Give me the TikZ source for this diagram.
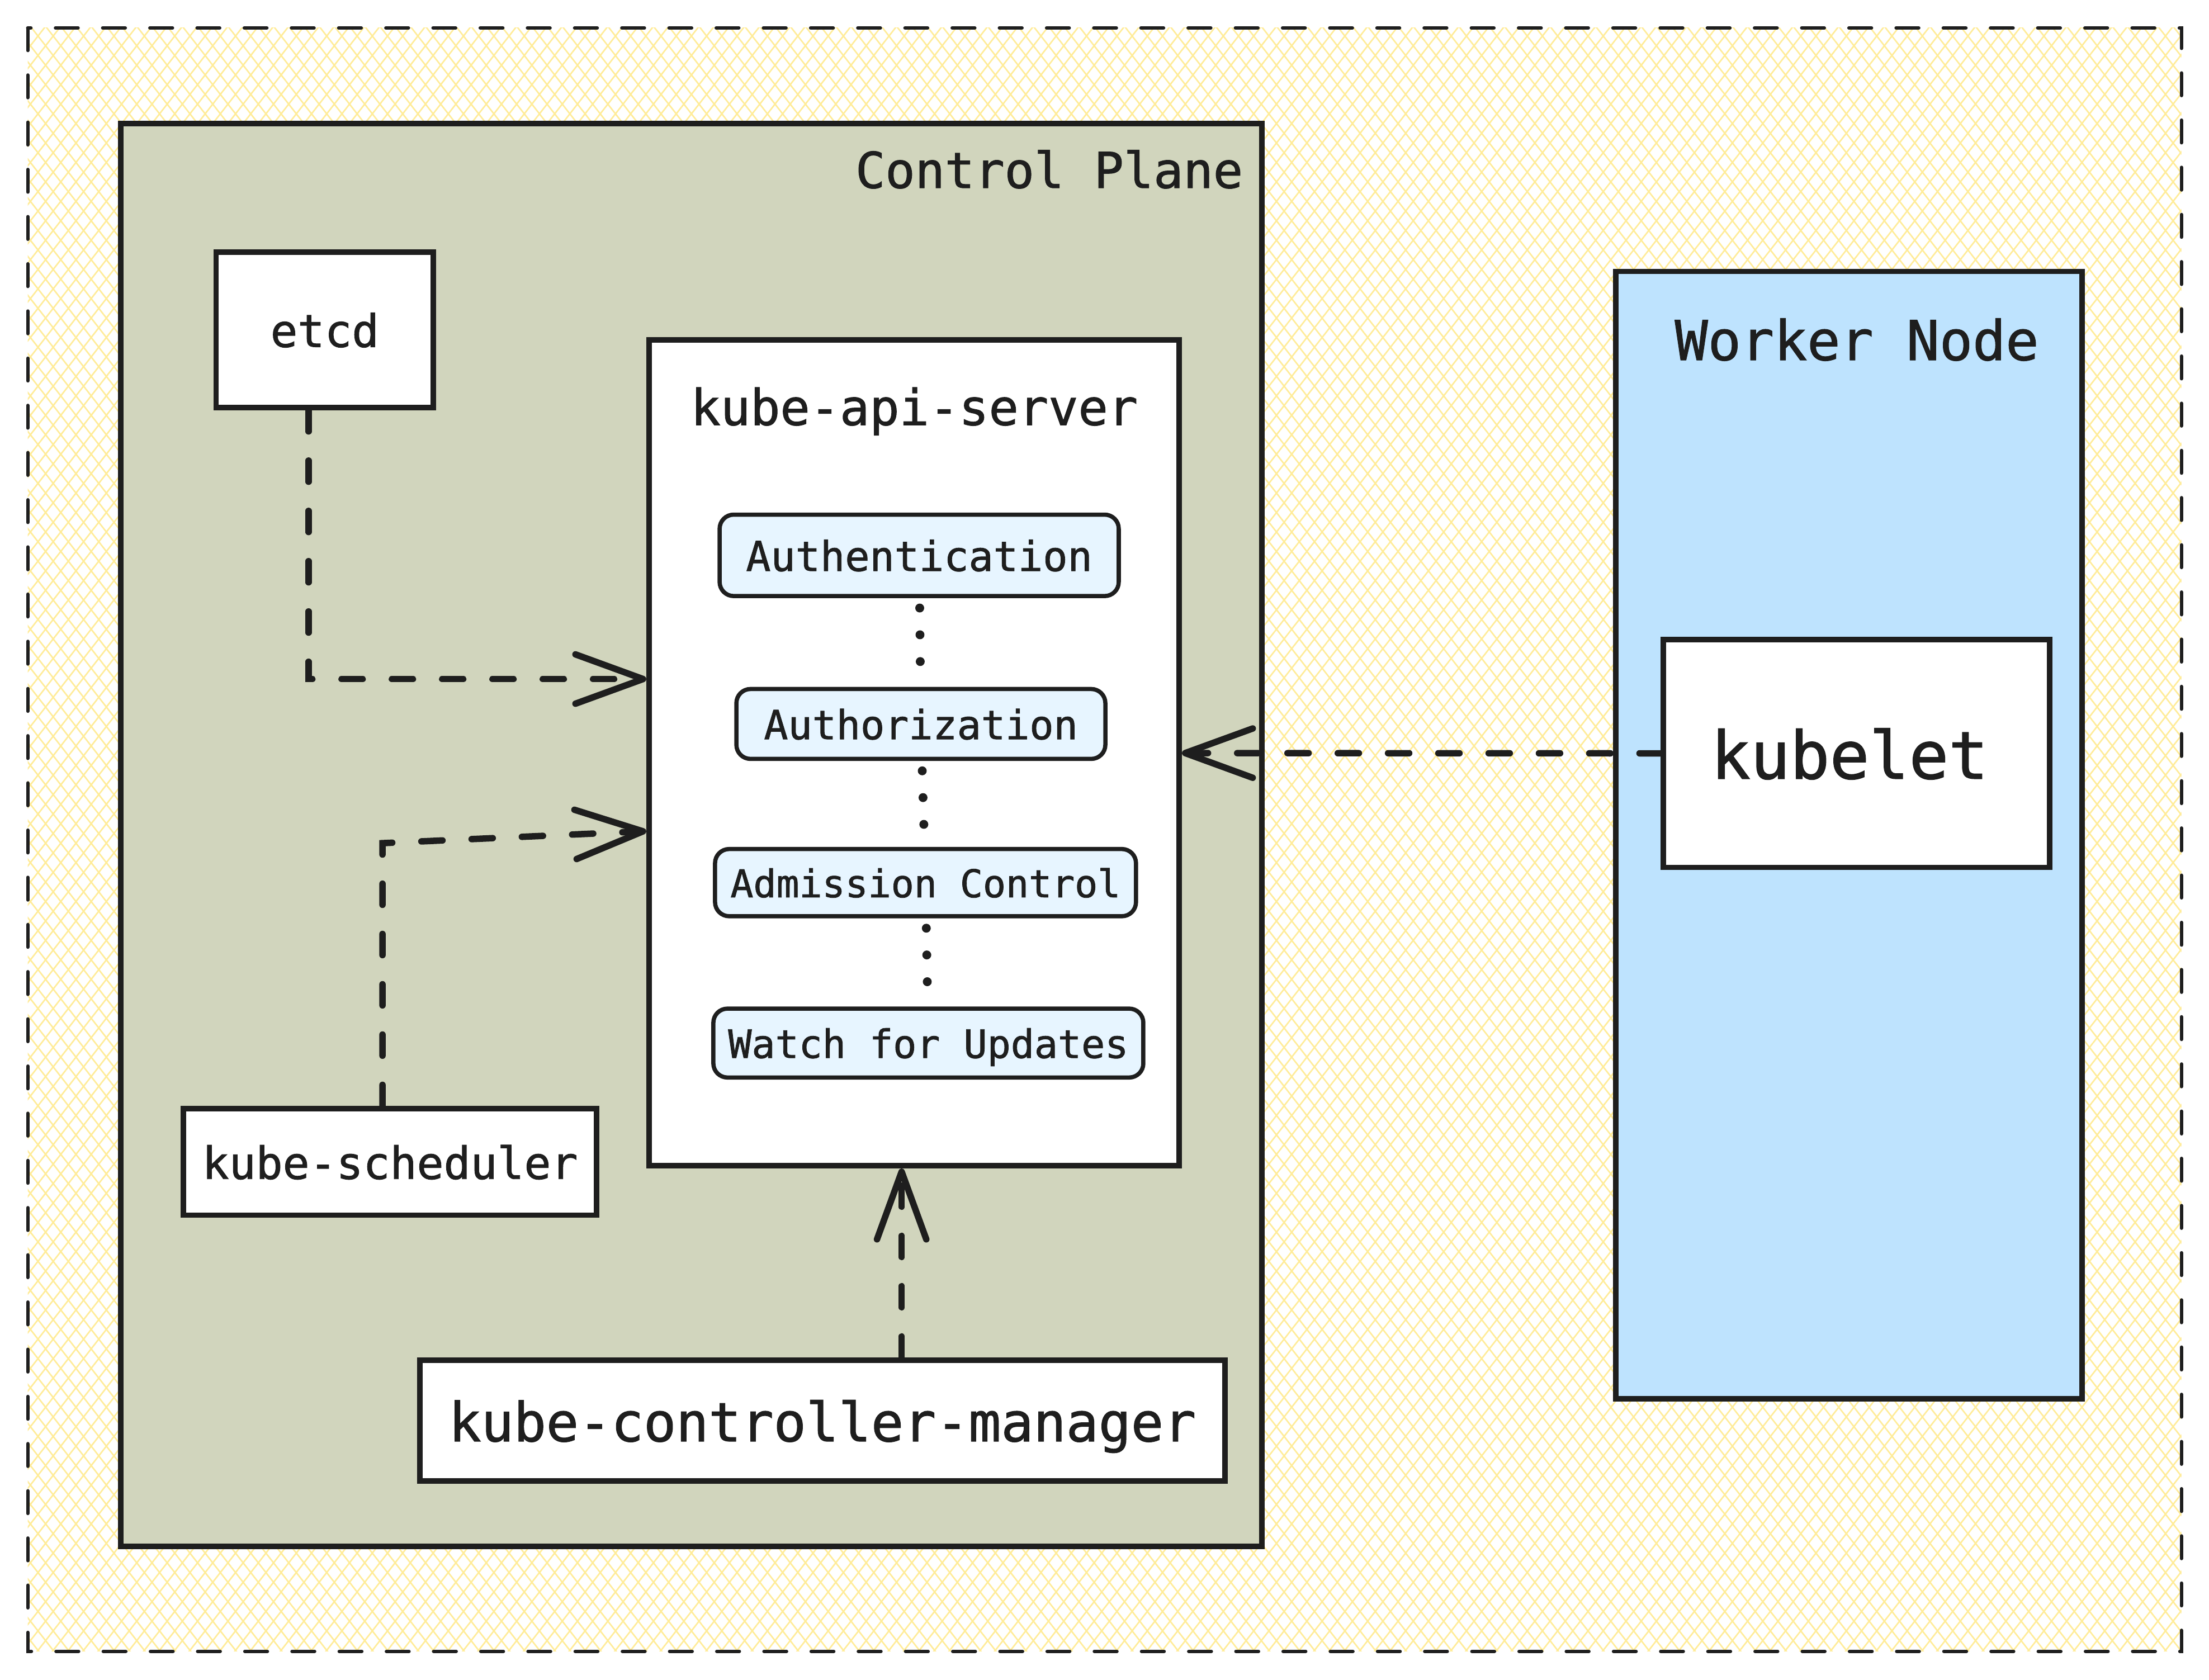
\documentclass[tikz,border=0pt]{standalone}
\usepackage{fontspec}
\setmonofont[FakeBold=1.2]{DejaVu Sans Mono}
\usetikzlibrary{positioning,arrows.meta,patterns.meta}

\definecolor{ink}{HTML}{1E1E1E}
\definecolor{hatch}{HTML}{FFEC99}
\definecolor{planefill}{HTML}{D1D5BD}
\definecolor{workerfill}{HTML}{BEE3FE}
\definecolor{stagefill}{HTML}{E7F5FF}
\newcommand{\mono}[1]{\ttfamily\fontsize{#1}{#1}\selectfont}

\begin{document}
\begin{tikzpicture}
\tikzstyle{box}=[rectangle, draw=ink, line width=1.1pt, fill=white, inner sep=0pt, text=ink, text depth=0pt, font=\mono{10pt}]
\tikzstyle{stage}=[box, rounded corners=1mm, fill=stagefill, line width=0.85pt]
\tikzstyle{title}=[inner sep=0pt, text=ink, font=\mono{10pt}]
\tikzstyle{connect}=[ink, line width=1.3pt, line cap=round, dash pattern=on 1.5mm off 2.07mm, -{Straight Barb[length=4.8mm, width=3.5mm, round]}]
\tikzstyle{dots}=[ink, line width=1.8pt, line cap=round, dash pattern=on 0pt off 1.9mm, shorten <=0.7mm, shorten >=1mm]
  \useasboundingbox (0,0) rectangle (15.68,-11.922);

  % hatched frame
  \coordinate (frame nw) at (0.197,-0.198);
  \coordinate (frame se) at (15.484,-11.722);
  \fill[white] (frame nw) rectangle (frame se);
  \foreach \a in {52,-52}
    \fill[pattern={Lines[angle=\a, distance=0.85mm, line width=0.3pt]}, pattern color=hatch] (frame nw) rectangle (frame se);
  \draw[ink, line width=0.7pt, line cap=round, dash pattern=on 1.6mm off 1.75mm] (frame nw) rectangle (frame se);

  % control plane
  \node[box, fill=planefill, minimum width=81.01mm, minimum height=101.01mm] (plane) at (4.9065,-5.9275) {};
  \node[title, anchor=base east] (planetitle) at (8.83,-1.334) {Control Plane};
  \node[box, minimum width=15.43mm, minimum height=11.04mm, font=\mono{9.1pt}] (etcd) at (2.305,-2.341) {etcd};
  \node[box, minimum width=37.63mm, minimum height=58.61mm] (api) at (6.4885,-5.3445) {};
  \node[title, anchor=base] (apititle) at (6.49,-3.017) {kube-api-server};
  \node[stage, minimum width=28.33mm, minimum height=5.78mm, font=\mono{8.3pt}] (authn) at (6.5245,-3.942) {Authentication};
  \node[stage, below=6.3mm of authn, xshift=0.12mm, minimum width=26.19mm, minimum height=4.96mm, font=\mono{8.1pt}] (authz) {Authorization};
  \node[stage, below=6.1mm of authz, xshift=0.33mm, minimum width=29.88mm, minimum height=4.77mm, font=\mono{7.7pt}] (admit) {Admission Control};
  \node[stage, below=6.26mm of admit, xshift=0.2mm, minimum width=30.52mm, minimum height=4.89mm, font=\mono{7.9pt}] (watch) {Watch for Updates};
  \node[box, minimum width=29.33mm, minimum height=7.55mm, font=\mono{9pt}] (sched) at (2.7685,-8.2475) {kube-scheduler};
  \node[box, minimum width=57.15mm, minimum height=8.57mm, font=\mono{10.9pt}] (ctrl) at (5.8375,-10.0845) {kube-controller-manager};

  % worker node
  \node[box, fill=workerfill, minimum width=33.1mm, minimum height=80.03mm] (worker) at (13.125,-5.9285) {};
  \node[title, anchor=base, font=\mono{11.1pt}] (workertitle) at (13.18,-2.556) {Worker Node};
  \node[box, minimum width=27.43mm, minimum height=16.17mm, font=\mono{13.3pt}] (kubelet) at (13.1785,-5.3485) {\hspace*{-1mm}kubelet};

  \path (authn) edge [dots] (authz)
	(authz) edge [dots] (admit)
	(admit) edge [dots] (watch)
	(kubelet) edge [connect] (api);
  \draw[connect] (2.19,0 |- etcd.south) |- (api.west |- 0,-4.82);
  \draw[connect] (2.715,0 |- sched.north) -- (2.715,-5.985) -- (api.west |- 0,-5.90);
  \draw[connect] (6.40,0 |- ctrl.north) -- (6.40,0 |- api.south);
\end{tikzpicture}
\end{document}
